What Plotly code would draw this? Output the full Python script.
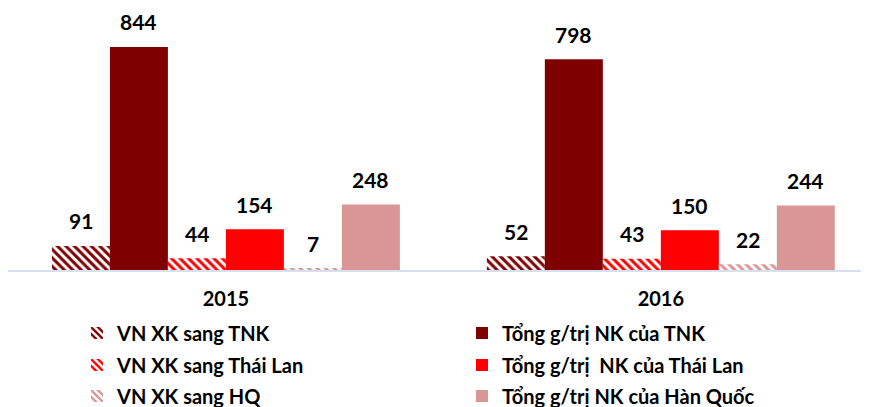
import plotly.graph_objects as go

years = ["2015", "2016"]
series_names = [
    "VN XK sang TNK",
    "Tổng g/trị NK của TNK",
    "VN XK sang Thái Lan",
    "Tổng g/trị  NK của Thái Lan",
    "VN XK sang HQ",
    "Tổng g/trị NK của Hàn Quốc",
]
vn_xk_tnk = [91, 52]
tong_nk_tnk = [844, 798]
vn_xk_thai = [44, 43]
tong_nk_thai = [154, 150]
vn_xk_hq = [7, 22]
tong_nk_hq = [248, 244]

values = [vn_xk_tnk, tong_nk_tnk, vn_xk_thai, tong_nk_thai, vn_xk_hq, tong_nk_hq]
colors = ["#7F0000", "#7F0000", "#FF0000", "#FF0000", "#D99694", "#D99694"]
hatched = [True, False, True, False, True, False]
legend_ids = ["legend", "legend", "legend2", "legend2", "legend3", "legend3"]

FONT = "Lato"
fig = go.Figure()
for name, vals, col, hat, lg in zip(series_names, values, colors, hatched, legend_ids):
    marker = dict(color=col, line=dict(width=0))
    if hat:
        marker = dict(color="white", line=dict(width=0),
                      pattern=dict(shape="\\", fgcolor=col, bgcolor="white",
                                   size=6, solidity=0.5, fillmode="replace",
                                   fgopacity=1))
    fig.add_trace(go.Bar(x=years, y=vals, name=name, marker=marker, legend=lg))

# data labels
nser = len(series_names)
bar_px = 58
for i, vals in enumerate(values):
    for j, v in enumerate(vals):
        fig.add_annotation(x=j, y=v, xref="x", yref="y", text="<b>%d</b>" % v,
                           showarrow=False,
                           xshift=(i - (nser - 1) / 2) * bar_px, yshift=25,
                           yanchor="middle",
                           font=dict(family=FONT, size=21, color="black"))

PH = 260  # plot height in px
leg_common = dict(orientation="h", x=(77 - 8) / 869, xanchor="left", yanchor="middle",
                  entrywidth=340, bgcolor="rgba(0,0,0,0)",
                  font=dict(family=FONT, size=20, color="black", weight="bold"))
fig.update_layout(
    width=869, height=407,
    margin=dict(l=0, r=0, t=2, b=145, autoexpand=False),
    paper_bgcolor="white", plot_bgcolor="white",
    barmode="group", bargap=0.2, bargroupgap=0,
    showlegend=True,
    legend=dict(**leg_common, y=-(333 - 270) / PH),
    legend2=dict(**leg_common, y=-(365 - 270) / PH),
    legend3=dict(**leg_common, y=-(396 - 270) / PH),
    xaxis=dict(type="category", range=[-0.501, 1.497], showline=True,
               linecolor="#D6E0F0", linewidth=1.5, automargin=False,
               showgrid=False, ticks="", ticklabelstandoff=10,
               tickfont=dict(family=FONT, size=20, color="black", weight="bold")),
    yaxis=dict(range=[0, 984], showticklabels=False, showline=False,
               showgrid=False, zeroline=False, ticks="", automargin=False),
)

fig.write_html("out.html")
